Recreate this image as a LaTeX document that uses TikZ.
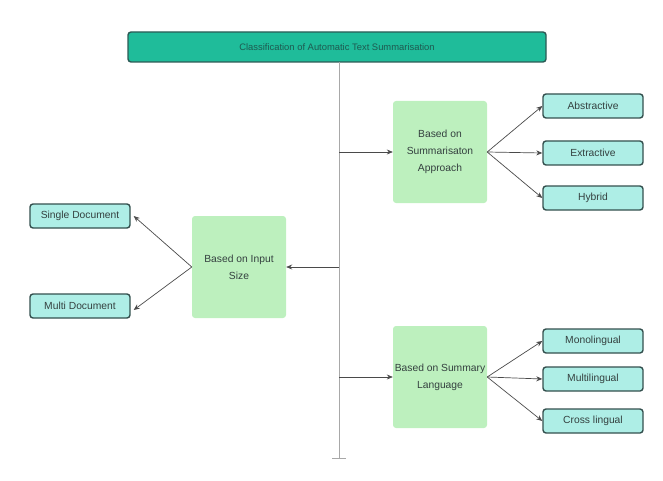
\documentclass[tikz,border=0pt]{standalone}
\usepackage{fontspec}
\setmainfont{Liberation Sans}
\usetikzlibrary{positioning}
\usetikzlibrary{arrows.meta}

\definecolor{rootfill}{HTML}{1FBC9A}
\definecolor{rootdraw}{HTML}{2C5A55}
\definecolor{roottext}{HTML}{1E5A50}
\definecolor{basisfill}{HTML}{BDF0BE}
\definecolor{leaffill}{HTML}{AEEEE6}
\definecolor{leafdraw}{HTML}{34504E}
\definecolor{inktext}{HTML}{34403F}
\definecolor{trunkgray}{HTML}{A8A8A8}
\definecolor{linkgray}{HTML}{4A4A4A}

\begin{document}
\begin{tikzpicture}[x=1pt,y=-1pt,
  root/.style={draw=rootdraw,fill=rootfill,line width=1.4pt,rounded corners=3pt,
    minimum width=418pt,minimum height=30pt,inner sep=0pt,text=roottext,font=\fontsize{9.4}{11}\selectfont},
  basis/.style={fill=basisfill,rounded corners=3pt,minimum width=94pt,minimum height=102pt,
    inner sep=0pt,align=center,text=inktext,font=\fontsize{10.3}{17}\selectfont},
  leaf/.style={draw=leafdraw,fill=leaffill,line width=1.4pt,rounded corners=3pt,
    minimum width=100pt,minimum height=24pt,inner sep=0pt,text=inktext,font=\fontsize{10.3}{12}\selectfont},
  trunk/.style={draw=trunkgray,line width=1pt},
  link/.style={-{Stealth[length=6pt,width=5pt]},draw=linkgray,line width=0.7pt}]
  \useasboundingbox (0,0) rectangle (663,481);

  % main heading and the three bases
  \node[root] (root) at (337,47) {Classification of Automatic Text Summarisation};
  \node[basis] (app) at (440,152) {Based on\\Summarisaton\\Approach};
  \node[basis] (inp) at (239,267) {Based on Input\\Size};
  \node[basis] (lang) at (440,377) {Based on Summary\\Language};

  % leaves
  \node[leaf] (abs) at (593,106) {Abstractive};
  \node[leaf] (ext) at (593,153) {Extractive};
  \node[leaf] (hyb) at (593,198) {Hybrid};
  \node[leaf] (single) at (80,216) {Single Document};
  \node[leaf] (multi) at (80,306) {Multi Document};
  \node[leaf] (mono) at (593,341) {Monolingual};
  \node[leaf] (multil) at (593,379) {Multilingual};
  \node[leaf] (cross) at (593,421) {Cross lingual};

  % trunk
  \coordinate (top) at (339,62);
  \coordinate (bot) at (339,458);
  \coordinate (botl) at (332,458);
  \coordinate (botr) at (346,458);
  \draw[trunk] (top) -- (bot);
  \draw[trunk] (botl) -- (botr);

  \draw[link] (bot |- app.west) -- (app.west);
  \draw[link] (bot |- inp.east) -- (inp.east);
  \draw[link] (bot |- lang.west) -- (lang.west);

  \draw[link] (app.east) -- (abs.west);
  \draw[link] (app.east) -- (ext.west);
  \draw[link] (app.east) -- (hyb.west);
  \draw[link] (inp.west) -- ([xshift=3pt]single.east);
  \draw[link] (inp.west) -- ([xshift=3pt,yshift=-4pt]multi.east);
  \draw[link] (lang.east) -- (mono.west);
  \draw[link] (lang.east) -- (multil.west);
  \draw[link] (lang.east) -- (cross.west);
\end{tikzpicture}
\end{document}
